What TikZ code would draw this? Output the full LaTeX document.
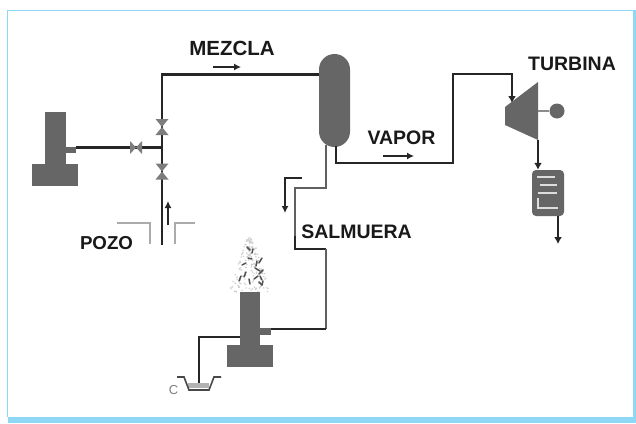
\documentclass[tikz,border=0pt]{standalone}
\usepackage{fontspec}
\setmainfont{Liberation Sans}
\usetikzlibrary{arrows.meta}
\definecolor{frameblue}{HTML}{8FD8F5}
\definecolor{equip}{HTML}{666666}
\definecolor{pipedark}{HTML}{262626}
\definecolor{pipegrey}{HTML}{606060}
\definecolor{wallgrey}{HTML}{ABABAB}
\tikzset{
  x=1pt,y=-1pt,
  lbl/.style={font=\bfseries\fontsize{19.5}{20}\selectfont,text=black!90,inner sep=0pt},
  pipe/.style={draw=pipedark,line width=2.1pt,line join=miter},
  brine/.style={draw=pipegrey,line width=1.9pt},
  flow/.style={draw=pipedark,line width=1.3pt,-{Latex[length=7pt,width=7pt]}},
  tipped/.style={pipe,-{Latex[length=7pt,width=8pt]}},
  wall/.style={draw=wallgrey,line width=1.7pt},
  valvebody/.style={fill=equip!85,draw=none},
  steam/.style={draw=black!68,line width=1.5pt,line cap=round},
  coil/.style={draw=white!78!equip,line width=1.1pt},
}
\begin{document}
\begin{tikzpicture}
\useasboundingbox (0,0) rectangle (636,423);
\fill[white] (0,0) rectangle (636,423);
% frame
\fill[frameblue] (633,10) rectangle (636,423);
\fill[frameblue] (8,417) rectangle (636,423);
\draw[frameblue,line width=1.3pt] (7.6,417) -- (7.6,10.6) -- (633,10.6);

% mist behind the flame
\pgfmathsetseed{4242}
\foreach \i in {1,...,170}{
  \pgfmathsetmacro{\my}{238+54*rnd}
  \pgfmathsetmacro{\mw}{3+(\my-238)*0.33}
  \pgfmathsetmacro{\mx}{250+\mw*(2*rnd-1)}
  \fill[black!20] (\mx,\my) circle[radius=0.8];
}

% pipes
\coordinate (j1) at (162,74.5);
\coordinate (wellbot) at (162,245);
\coordinate (tee) at (162,147.5);
\node[fill=equip,draw=none,minimum width=10,minimum height=6,inner sep=0pt] (stubL) at (71,149.5) {};
\coordinate (stubLe) at (76,147.5);
\draw[pipe] (stubLe) -- (tee);
\node[draw=none,inner sep=0pt,minimum width=31,minimum height=93,rounded corners=15.5,fill=equip] (sep) at (334.5,100.5) {};
\draw[pipe] (wellbot) -- (j1) -- (sep.west |- j1);
% vapour line
\coordinate (vb) at (336,146);
\coordinate (v1) at (336,163);
\coordinate (v2) at (453,163);
\coordinate (v3) at (453,74);
\coordinate (v4) at (512,74);
\coordinate (v5) at (512,103);
\draw[tipped] (vb) -- (v1) -- (v2) -- (v3) -- (v4) -- (v5);
% brine line
\coordinate (b0) at (326,145);
\coordinate (b1) at (326,188);
\coordinate (b2) at (295,188);
\coordinate (b3) at (295,249);
\coordinate (b4) at (326,249);
\coordinate (b5) at (326,329);
\draw[brine] (b0) -- (b1) -- (b2) -- (b3);
\draw[pipe] (295,236) -- (b3) -- (b4);
\draw[brine] (b4) -- (b5);
\node[fill=equip,draw=none,minimum width=11,minimum height=7,inner sep=0pt] (stubT) at (265,331) {};
\draw[pipe] (b5) -- (stubT.east |- b5);

% left block
\fill[equip] (45,112) rectangle (66,164);
\fill[equip] (32,164) rectangle (78,186);

% valves
\fill[valvebody] (130,141) -- (136,147.5) -- (130,154) -- cycle;
\fill[valvebody] (142,141) -- (136,147.5) -- (142,154) -- cycle;
\foreach \vy in {127,171.5}{
  \fill[valvebody] (155.5,\vy-8) -- (168.5,\vy-8) -- (162,\vy) -- cycle;
  \fill[valvebody] (155.5,\vy+8) -- (168.5,\vy+8) -- (162,\vy) -- cycle;
}

% well
\draw[wall] (117,223) -- (150,223) -- (150,244);
\draw[wall] (175,244) -- (175,223) -- (195,223);
\coordinate (wa) at (168,225);
\coordinate (wb) at (168,201);
\draw[flow] (wa) -- (wb);

% tower
\fill[equip] (240,292) rectangle (260,345);
\fill[equip] (227,345) rectangle (273,367);
\coordinate (p0) at (240,337);
\coordinate (p1) at (199,337);
\coordinate (p2) at (199,383);
\draw[pipe] (p0) -- (p1) -- (p2);
% pond
\fill[black!30] (188,383) rectangle (209,388);
\draw[draw=black!72,line width=1.6pt] (177,377) -- (184,377) -- (189,390) -- (209,390) -- (214,377) -- (221,377);
\node[font=\fontsize{13}{14}\selectfont,text=black!50,inner sep=0pt] (pondc) at (173.5,390) {C};

% flame marks
\foreach \ax/\ay/\bx/\by in {
 247/247/250/250, 253/249/252/253, 248/258/252/259, 257/261/256/266, 262/258/259/263,
 242/265/246/263, 255/268/260/271, 263/270/259/274, 239/281/241/276, 246/272/244/277,
 249/279/250/284, 254/279/258/276, 260/276/262/280, 259/282/262/285, 263/281/262/285}
  \draw[steam] (\ax,\ay) -- (\bx,\by);

% turbine
\fill[equip] (505,107) -- (538,82) -- (538,140) -- (505,125) -- cycle;
\node[circle,fill=equip,draw=none,minimum size=15,inner sep=0pt] (gen) at (557,111) {};
\coordinate (tshaft) at (538,111);
\draw[draw=black!45,line width=2pt] (tshaft) -- (gen);

% condenser
\node[fill=equip,draw=none,rounded corners=4,minimum width=32,minimum height=46,inner sep=0pt] (cond) at (548,193) {};
\draw[coil] (537,177) -- (555,177);
\draw[coil] (540,185) -- (557,185);
\draw[coil] (538,193) -- (557,193);
\draw[coil] (538,198) -- (538,208) -- (558,208);
\coordinate (tout) at (538,140);
\draw[tipped,line width=1.7pt] (tout) -- (cond.north -| tout);
\coordinate (cex) at (558,244);
\draw[tipped,line width=1.7pt] (cond.south -| cex) -- (cex);

% flow arrows
\coordinate (ma) at (213,67);
\coordinate (mb) at (241,67);
\draw[flow] (ma) -- (mb);
\coordinate (va) at (383,156);
\coordinate (vz) at (414,156);
\draw[flow] (va) -- (vz);
\coordinate (sa) at (302,178);
\coordinate (sb) at (285,178);
\coordinate (sc) at (285,213);
\draw[flow] (sa) -- (sb) -- (sc);

% labels
\node[lbl,font=\bfseries\fontsize{20.5}{21}\selectfont] (mezcla) at (232,48) {MEZCLA};
\node[lbl] (vapor) at (401.5,138) {VAPOR};
\node[lbl] (turbina) at (572,64) {TURBINA};
\node[lbl] (salmuera) at (356.5,232) {SALMUERA};
\node[lbl,font=\bfseries\fontsize{18.7}{19}\selectfont] (pozo) at (106.5,243) {POZO};
\end{tikzpicture}
\end{document}
